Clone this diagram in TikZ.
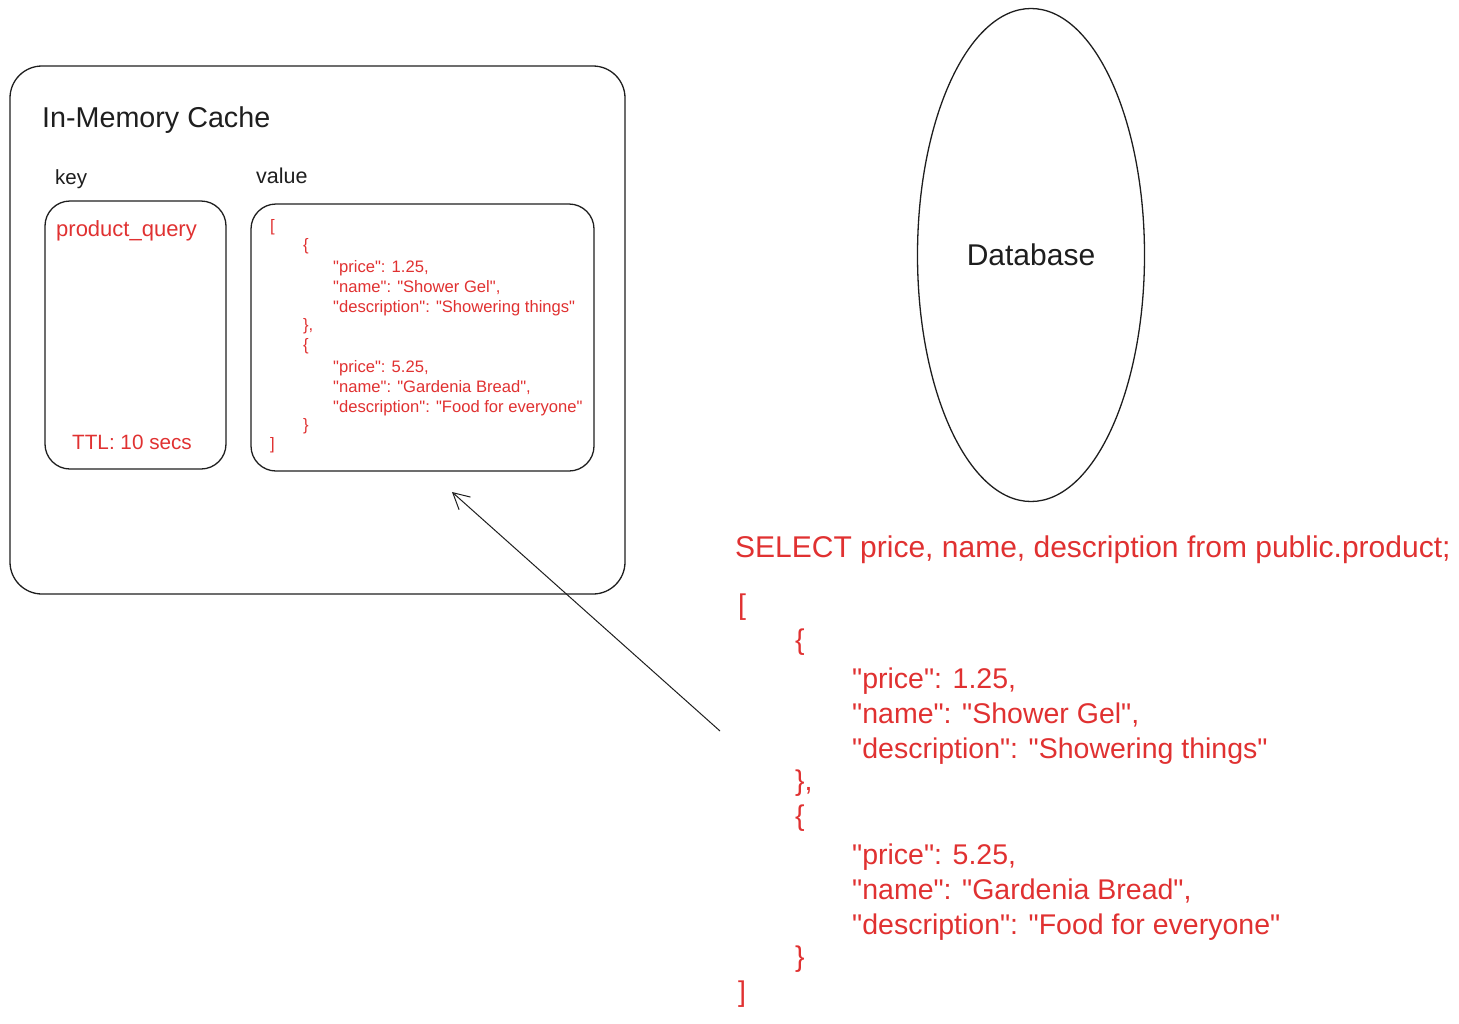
\documentclass[tikz,border=0pt]{standalone}
\usepackage{fontspec}
\setmainfont{Liberation Sans}[Ligatures=TeXOff]
\usetikzlibrary{shapes.geometric,arrows.meta}
\definecolor{inkred}{HTML}{E03131}
\definecolor{ink}{HTML}{1E1E1E}
\begin{document}
\begin{tikzpicture}[x=1pt,y=-1pt,
  box/.style={draw=ink, line width=1.3pt, rounded corners=#1, inner sep=0pt},
  blacktxt/.style={anchor=base west, inner sep=0pt, text=ink},
  redtxt/.style={anchor=base west, inner sep=0pt, text=inkred},
  link/.style={draw=ink, line width=1pt, -{Straight Barb[length=16pt,width=17pt,line width=1pt]}}]
\useasboundingbox (0,0) rectangle (1459,1023);
% boxes
\node[box=32pt, minimum width=615pt, minimum height=528pt] (cache) at (317.5,330) {};
\node[box=25pt, minimum width=181pt, minimum height=268pt] (keybox) at (135.5,335) {};
\node[box=25pt, minimum width=343pt, minimum height=267pt] (valbox) at (422.5,337.5) {};
% labels
\node[blacktxt, font=\fontsize{28.7}{34}\selectfont] (title) at (42,127) {In-Memory Cache};
\node[blacktxt, font=\fontsize{20.5}{24}\selectfont] (keylbl) at (55,184) {key};
\node[blacktxt, font=\fontsize{21.5}{24}\selectfont] (vallbl) at (256,183) {value};
\node[redtxt, font=\fontsize{22}{26}\selectfont] (keytxt) at (56,236) {product\_query};
\node[redtxt, font=\fontsize{20.7}{24}\selectfont] (ttl) at (72,449) {TTL: 10 secs};
% small json
\foreach \i/\dx/\dy/\t in {0/0/0/{[}, 1/33/0/{\{}, 2/63/2/{"price": 1.25,}, 3/63/2/{"name": "Shower Gel",},
  4/63/2/{"description": "Showering things"}, 5/33/0/{\},}, 6/33/0/{\{}, 7/63/2/{"price": 5.25,},
  8/63/2/{"name": "Gardenia Bread",}, 9/63/2/{"description": "Food for everyone"}, 10/33/0/{\}}, 11/0/0/{]}}{
  \node[redtxt, font=\fontsize{16.6}{20}\selectfont] (small\i) at ({270+\dx},{231+19.9*\i+\dy}) {\t};
}
% database
\node[draw=ink, line width=1.3pt, ellipse, minimum width=227pt, minimum height=493pt, inner sep=0pt,
  text=ink, font=\fontsize{30}{36}\selectfont] (db) at (1031,255) {Database};
% query
\node[redtxt, font=\fontsize{30}{36}\selectfont] (sql) at (735,557) {SELECT price, name, description from public.product;};
\foreach \i/\dx/\dy/\t in {0/0/0/{[}, 1/57/0/{\{}, 2/114/4/{"price": 1.25,}, 3/114/4/{"name": "Shower Gel",},
  4/114/4/{"description": "Showering things"}, 5/57/0/{\},}, 6/57/0/{\{}, 7/114/4/{"price": 5.25,},
  8/114/4/{"name": "Gardenia Bread",}, 9/114/4/{"description": "Food for everyone"}, 10/57/0/{\}}, 11/0/0/{]}}{
  \node[redtxt, font=\fontsize{28.5}{34}\selectfont] (big\i) at ({738+\dx},{614+35.2*\i+\dy}) {\t};
}
% arrow
\coordinate (tail) at (720,731);
\coordinate (tip) at (452,492);
\draw[link] (tail) -- (tip);
\end{tikzpicture}
\end{document}
